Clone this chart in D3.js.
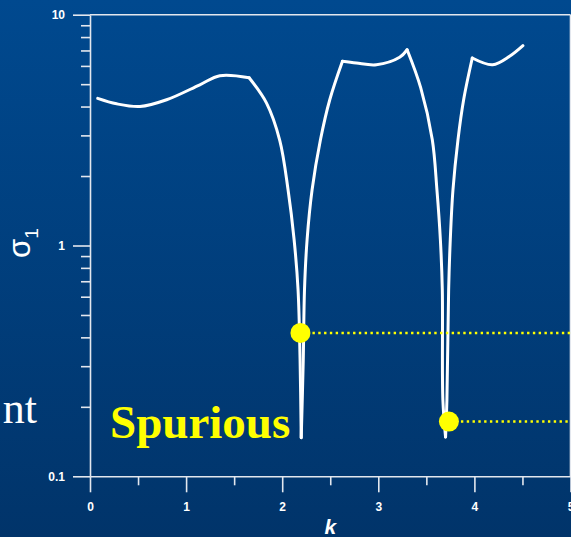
<!DOCTYPE html>
<html>
<head>
<meta charset="utf-8">
<script src="https://cdn.jsdelivr.net/npm/d3@7"></script>
<style>
  html, body { margin: 0; padding: 0; overflow: hidden; background: #003f7f; }
  svg { display: block; }
</style>
</head>
<body>
<svg id="chart" width="571" height="537"></svg>
<script>
// Smallest singular value sigma_1 against wavenumber k
const kValues = [
  0.08, 0.277, 0.52, 0.797, 1.143, 1.351, 1.656,
  1.837, 1.975, 2.061, 2.124, 2.165, 2.186, 2.198,
  2.219, 2.232, 2.259, 2.311, 2.398, 2.495, 2.627,
  2.772, 2.98, 3.222, 3.30,
  3.441, 3.562, 3.610, 3.646, 3.666, 3.672, 3.70,
  3.714, 3.732, 3.749, 3.777, 3.829, 3.888, 3.978,
  4.19, 4.366, 4.505
];
const sigmaValues = [
  4.34, 4.11, 4.00, 4.28, 4.97, 5.44, 5.33,
  4.14, 2.85, 1.744, 1.059, 0.643, 0.318, 0.147,
  0.318, 0.643, 1.059, 1.744, 2.87, 4.28, 6.28,
  6.17, 6.07, 6.54, 7.05,
  4.83, 2.87, 1.744, 1.059, 0.643, 0.214, 0.148,
  0.214, 0.643, 1.059, 1.744, 2.87, 4.28, 6.49,
  6.07, 6.6, 7.34
];
// k values where the curve has a corner (segments are smoothed separately)
const cornerKs = [1.656, 2.198, 2.627, 3.30, 3.70, 3.978];

// Minima picked by the sampling that turned out spurious
const spuriousK = [2.19, 3.735];
const spuriousSigma = [0.418, 0.1726];

const xMajorTicks = [0, 1, 2, 3, 4, 5];
const xMinorTicks = [0.5, 1.5, 2.5, 3.5, 4.5];
const yMajorTicks = [0.1, 1, 10];
const yTickLabels = ["0.1", "1", "10"];
const yMinorTicks = [0.2, 0.3, 0.4, 0.5, 0.6, 0.7, 0.8, 0.9, 2, 3, 4, 5, 6, 7, 8, 9];

const W = 571, H = 537;
const svg = d3.select("#chart");

// background
const defs = svg.append("defs");
const grad = defs.append("linearGradient")
  .attr("id", "bg").attr("x1", 0).attr("y1", 0).attr("x2", 0).attr("y2", 1);
grad.append("stop").attr("offset", "0%").attr("stop-color", "#00498f");
grad.append("stop").attr("offset", "100%").attr("stop-color", "#01346a");
svg.append("rect").attr("width", W).attr("height", H).attr("fill", "url(#bg)");

const x = d3.scaleLinear().domain([0, 5]).range([90, 570.5]);
const y = d3.scaleLog().domain([0.1, 10]).range([476.3, 14.7]);

const axisColor = "#e3e7ee";
const labelFont = "'Liberation Sans', Arial, sans-serif";

function styleAxis(g) {
  g.selectAll(".domain").attr("stroke", axisColor).attr("stroke-width", 1.6);
  g.selectAll(".tick line").attr("stroke", axisColor).attr("stroke-width", 1.6);
  g.selectAll(".tick text")
    .attr("fill", "#ffffff")
    .attr("font-family", labelFont)
    .attr("font-weight", "bold")
    .attr("font-size", 12);
}

// x axis
svg.append("g")
  .attr("transform", `translate(0,${y(0.1)})`)
  .call(d3.axisBottom(x).tickValues(xMinorTicks).tickSize(9).tickSizeOuter(0).tickFormat(""))
  .call(g => g.select(".domain").remove())
  .call(styleAxis);
svg.append("g")
  .attr("transform", `translate(0,${y(0.1)})`)
  .call(d3.axisBottom(x).tickValues(xMajorTicks).tickSize(16).tickSizeOuter(0)
    .tickPadding(10).tickFormat(d3.format("d")))
  .call(styleAxis);

// y axis
svg.append("g")
  .attr("transform", `translate(${x(0)},0)`)
  .call(d3.axisLeft(y).tickValues(yMinorTicks).tickSize(9).tickSizeOuter(0).tickFormat(""))
  .call(g => g.select(".domain").remove())
  .call(styleAxis);
svg.append("g")
  .attr("transform", `translate(${x(0)},0)`)
  .call(d3.axisLeft(y).tickValues(yMajorTicks).tickSize(17).tickSizeOuter(0)
    .tickPadding(8).tickFormat((d, i) => yTickLabels[i]))
  .call(styleAxis);

// frame: top and right edges
svg.append("line")
  .attr("x1", x(0)).attr("x2", x(5)).attr("y1", y(10)).attr("y2", y(10))
  .attr("stroke", axisColor).attr("stroke-width", 1.6);
svg.append("line")
  .attr("x1", x(5)).attr("x2", x(5)).attr("y1", y(10)).attr("y2", y(0.1))
  .attr("stroke", axisColor).attr("stroke-width", 1.6);

// curve, split into smooth pieces at the corners
const points = kValues.map((k, i) => [k, sigmaValues[i]]);
const segments = [];
let current = [];
points.forEach(p => {
  current.push(p);
  if (cornerKs.includes(p[0])) {
    segments.push(current);
    current = [p];
  }
});
if (current.length > 1) segments.push(current);

const line = d3.line()
  .x(d => x(d[0]))
  .y(d => y(d[1]))
  .curve(d3.curveCatmullRom.alpha(0.5));

svg.append("g").selectAll("path")
  .data(segments)
  .join("path")
  .attr("d", line)
  .attr("fill", "none")
  .attr("stroke", "#ffffff")
  .attr("stroke-width", 3)
  .attr("stroke-linecap", "round")
  .attr("stroke-linejoin", "round");

// spurious minima: dotted guide to the right edge, then the marker
const spurious = spuriousK.map((k, i) => [k, spuriousSigma[i]]);
svg.append("g").selectAll("line")
  .data(spurious)
  .join("line")
  .attr("x1", d => x(d[0]) + 12)
  .attr("x2", W)
  .attr("y1", d => y(d[1]))
  .attr("y2", d => y(d[1]))
  .attr("stroke", "#ffff00")
  .attr("stroke-width", 2.5)
  .attr("stroke-dasharray", "2.4 3.4");
svg.append("g").selectAll("circle")
  .data(spurious)
  .join("circle")
  .attr("cx", d => x(d[0]))
  .attr("cy", d => y(d[1]))
  .attr("r", 10)
  .attr("fill", "#ffff00");

// labels
svg.append("text")
  .attr("x", (x(0) + x(5)) / 2)
  .attr("y", 534)
  .attr("text-anchor", "middle")
  .attr("fill", "#ffffff")
  .attr("font-family", labelFont)
  .attr("font-weight", "bold")
  .attr("font-style", "italic")
  .attr("font-size", 21)
  .text("k");

const yLabel = svg.append("text")
  .attr("transform", "translate(29.5,258) rotate(-90)")
  .attr("fill", "#ffffff")
  .attr("font-family", labelFont)
  .attr("font-size", 31);
yLabel.append("tspan").text("σ");
yLabel.append("tspan").attr("font-size", 19).attr("dy", 8).text("1");

svg.append("text")
  .attr("x", 110)
  .attr("y", 438)
  .attr("fill", "#ffff00")
  .attr("font-family", "'Liberation Serif', 'Times New Roman', serif")
  .attr("font-weight", "bold")
  .attr("font-size", 47)
  .text("Spurious");

svg.append("text")
  .attr("x", 37)
  .attr("y", 423)
  .attr("text-anchor", "end")
  .attr("fill", "#ffffff")
  .attr("font-family", "'Liberation Serif', 'Times New Roman', serif")
  .attr("font-size", 44)
  .text("nt");
</script>
</body>
</html>
